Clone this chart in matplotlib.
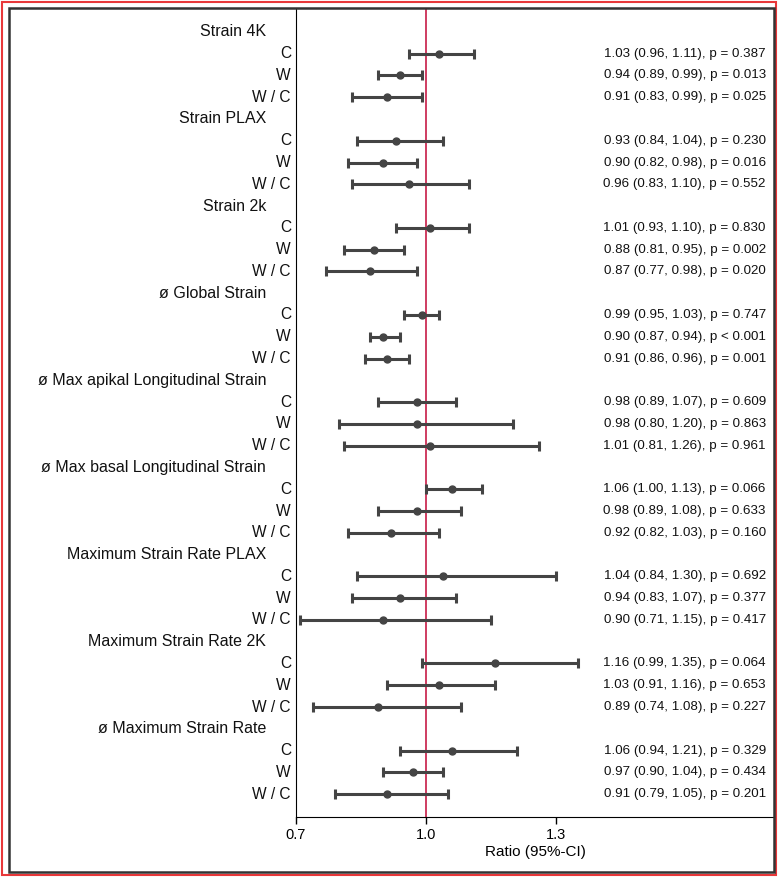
import numpy as np
import matplotlib
matplotlib.use("Agg")
import matplotlib.pyplot as plt
from matplotlib.patches import Rectangle

plt.rcParams['font.family'] = ['Liberation Sans', 'DejaVu Sans']

# groups and sub rows
groups = ['Strain 4K', 'Strain PLAX', 'Strain 2k', 'ø Global Strain',
          'ø Max apikal Longitudinal Strain', 'ø Max basal Longitudinal Strain',
          'Maximum Strain Rate PLAX', 'Maximum Strain Rate 2K', 'ø Maximum Strain Rate']
subs = ['C', 'W', 'W / C']

est = [[1.03, 0.94, 0.91], [0.93, 0.90, 0.96], [1.01, 0.88, 0.87],
       [0.99, 0.90, 0.91], [0.98, 0.98, 1.01], [1.06, 0.98, 0.92],
       [1.04, 0.94, 0.90], [1.16, 1.03, 0.89], [1.06, 0.97, 0.91]]
lo = [[0.96, 0.89, 0.83], [0.84, 0.82, 0.83], [0.93, 0.81, 0.77],
      [0.95, 0.87, 0.86], [0.89, 0.80, 0.81], [1.00, 0.89, 0.82],
      [0.84, 0.83, 0.71], [0.99, 0.91, 0.74], [0.94, 0.90, 0.79]]
hi = [[1.11, 0.99, 0.99], [1.04, 0.98, 1.10], [1.10, 0.95, 0.98],
      [1.03, 0.94, 0.96], [1.07, 1.20, 1.26], [1.13, 1.08, 1.03],
      [1.30, 1.07, 1.15], [1.35, 1.16, 1.08], [1.21, 1.04, 1.05]]
pvals = [['0.387', '0.013', '0.025'], ['0.230', '0.016', '0.552'],
         ['0.830', '0.002', '0.020'], ['0.747', '< 0.001', '0.001'],
         ['0.609', '0.863', '0.961'], ['0.066', '0.633', '0.160'],
         ['0.692', '0.377', '0.417'], ['0.064', '0.653', '0.227'],
         ['0.329', '0.434', '0.201']]

fig = plt.figure(figsize=(7.84, 8.81), dpi=100)
ax = fig.add_axes([296 / 784, 64 / 881, (774 - 296) / 784, (872 - 64) / 881])

col = '#444444'
n_rows = len(groups) * 4
for g, name in enumerate(groups):
    yh = g * 4
    ax.text(-30 / 478, yh, name, transform=ax.get_yaxis_transform(),
            ha='right', va='center', fontsize=11.5, color='#111111')
    for s, lab in enumerate(subs):
        y = yh + s + 1
        e, l, h = est[g][s], lo[g][s], hi[g][s]
        ax.errorbar(e, y, xerr=[[e - l], [h - e]], fmt='o', color=col,
                    ms=5, lw=2.2, capsize=3.5, capthick=2.2)
        ax.text(-5 / 478, y, lab, transform=ax.get_yaxis_transform(),
                ha='right', va='center', fontsize=11.2, color='#111111')
        p = pvals[g][s]
        ptxt = f'p {p}' if p.startswith('<') else f'p = {p}'
        ax.text(0.983, y, f'{e:.2f} ({l:.2f}, {h:.2f}), {ptxt}',
                transform=ax.get_yaxis_transform(), ha='right', va='center',
                fontsize=9.6, color='#111111')

ax.axvline(1.0, color='#cc2d55', lw=1.3, zorder=0)

ax.set_xlim(0.7, 0.7 + 478 / 433.3)
ax.set_ylim(n_rows - 1 + 1.05, -1.05)
ax.set_xticks([0.7, 1.0, 1.3])
ax.set_xticklabels(['0.7', '1.0', '1.3'], fontsize=10.5)
ax.set_yticks([])
ax.set_xlabel('Ratio (95%-CI)', fontsize=11, labelpad=2)
ax.tick_params(axis='x', length=5, width=1, pad=3)
ax.spines['top'].set_visible(False)
ax.spines['right'].set_visible(False)

# outer frames
fig.patches.append(Rectangle((2 / 784, 1 - 875 / 881), 774 / 784, 873 / 881,
                             transform=fig.transFigure, fill=False,
                             ec='#e8383a', lw=1.5))
fig.patches.append(Rectangle((9 / 784, 1 - 872 / 881), 765 / 784, 864 / 881,
                             transform=fig.transFigure, fill=False,
                             ec='#333333', lw=1.8))

fig.savefig('out.png', dpi=100)
